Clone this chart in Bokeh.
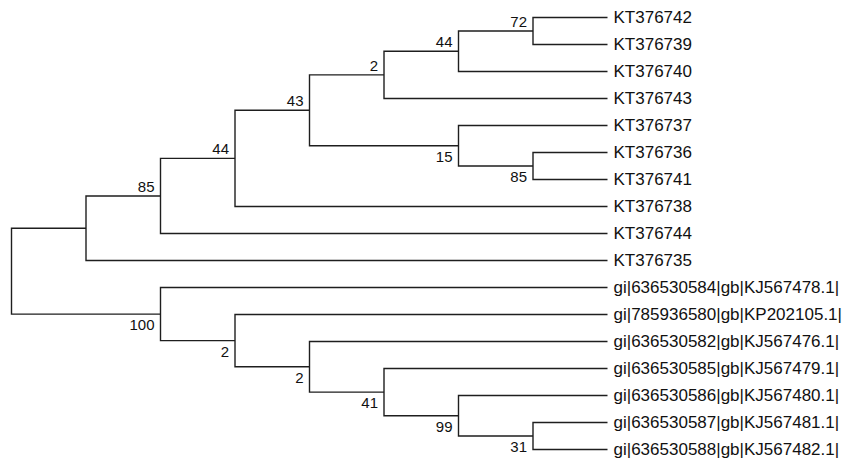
from bokeh.plotting import figure
from bokeh.models import Range1d
from bokeh.core.properties import value
from bokeh.embed import file_html
from bokeh.resources import INLINE

# ---- data: tree topology (cladogram) ----
leaves = [
    "KT376742", "KT376739", "KT376740", "KT376743", "KT376737",
    "KT376736", "KT376741", "KT376738", "KT376744", "KT376735",
    "gi|636530584|gb|KJ567478.1|", "gi|785936580|gb|KP202105.1|",
    "gi|636530582|gb|KJ567476.1|", "gi|636530585|gb|KJ567479.1|",
    "gi|636530586|gb|KJ567480.1|", "gi|636530587|gb|KJ567481.1|",
    "gi|636530588|gb|KJ567482.1|",
]
node_names = ["n72", "n44b", "n2a", "n85b", "n15", "n43", "n44a", "n85a", "nA",
              "n31", "n99", "n41", "n2c", "n2b", "n100", "root"]
node_left = ["KT376742", "n72", "n44b", "KT376736", "KT376737", "n2a", "n43", "n44a", "n85a",
             "gi|636530587|gb|KJ567481.1|", "gi|636530586|gb|KJ567480.1|",
             "gi|636530585|gb|KJ567479.1|", "gi|636530582|gb|KJ567476.1|",
             "gi|785936580|gb|KP202105.1|", "gi|636530584|gb|KJ567478.1|", "nA"]
node_right = ["KT376739", "KT376740", "KT376743", "KT376741", "n85b", "n15", "KT376738",
              "KT376744", "KT376735", "gi|636530588|gb|KJ567482.1|", "n31", "n99", "n41",
              "n2c", "n2b", "n100"]
node_support = ["72", "44", "2", "85", "15", "43", "44", "85", "",
                "31", "99", "41", "2", "2", "100", ""]

# ---- layout ----
children = {n: (l, r) for n, l, r in zip(node_names, node_left, node_right)}
support = dict(zip(node_names, node_support))
parent = {}
for n, (l, r) in children.items():
    parent[l] = (n, "upper")
    parent[r] = (n, "lower")

height = {}
def h(n):
    if n in height:
        return height[n]
    height[n] = 0 if n not in children else 1 + max(h(c) for c in children[n])
    return height[n]

ypos = {name: i for i, name in enumerate(leaves)}
def yy(n):
    if n not in ypos:
        l, r = children[n]
        ypos[n] = (yy(l) + yy(r)) / 2
    return ypos[n]

H = h("root")
yy("root")
xpos = {n: H - h(n) for n in list(children) + leaves}

# ---- figure ----
W, HT = 850, 460
px_per_x = 74.5
px_per_y = 27.0
x0_px, y0_px = 11.0, 17.0   # pixel position of level 0 / leaf 0
xr = Range1d(-x0_px / px_per_x, (W - x0_px) / px_per_x)
yr = Range1d((HT - y0_px) / px_per_y, -y0_px / px_per_y)

p = figure(width=W, height=HT, x_range=xr, y_range=yr, output_backend="svg",
           toolbar_location=None, x_axis_type=None, y_axis_type=None,
           min_border=0, outline_line_color=None, background_fill_color="white",
           border_fill_color="white")
p.grid.visible = False

xs, ys = [], []
for n, (l, r) in children.items():
    xs.append([xpos[l], xpos[n], xpos[n], xpos[r]])
    ys.append([ypos[l], ypos[l], ypos[r], ypos[r]])
p.multi_line(xs=xs, ys=ys, line_color="#1e1e1e", line_width=1.4, line_join="miter")

# leaf labels
p.text(x=[xpos[l] for l in leaves], y=[ypos[l] for l in leaves], text=leaves,
       text_font=value("Liberation Sans"), text_font_size="17px", text_color="#111111",
       text_align="left", text_baseline="middle", x_offset=6, y_offset=0)

# support values
ux, uy, ut, lx, ly, lt = [], [], [], [], [], []
for n in node_names:
    s = support[n]
    if not s or n not in parent:
        continue
    if parent[n][1] == "upper":
        ux.append(xpos[n]); uy.append(ypos[n]); ut.append(s)
    else:
        lx.append(xpos[n]); ly.append(ypos[n]); lt.append(s)

p.text(x=ux, y=uy, text=ut, text_font=value("Liberation Sans"), text_font_size="15px",
       text_color="#111111", text_align="right", text_baseline="bottom",
       x_offset=-6, y_offset=-4)
p.text(x=lx, y=ly, text=lt, text_font=value("Liberation Sans"), text_font_size="15px",
       text_color="#111111", text_align="right", text_baseline="top",
       x_offset=-6, y_offset=6)

open("out.html", "w").write(file_html(p, INLINE))
